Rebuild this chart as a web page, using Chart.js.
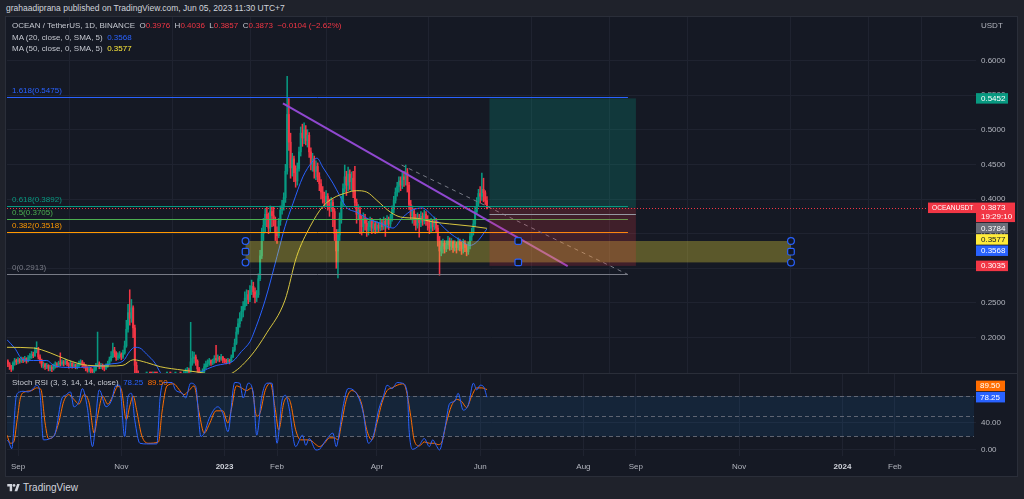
<!DOCTYPE html>
<html><head><meta charset="utf-8">
<script src="https://cdn.jsdelivr.net/npm/chart.js@4.4.1/dist/chart.umd.min.js"></script>
<style>
html,body{margin:0;padding:0;background:#1f222b;width:1024px;height:499px;overflow:hidden;font-family:"Liberation Sans",Arial,sans-serif;}
#hdr{position:absolute;left:6px;top:3px;font-size:8.5px;line-height:10px;color:#d1d4dc;white-space:nowrap}
#frame{position:absolute;left:5px;top:16px;width:1011px;height:459px;border:1px solid #2a2e39;background:#151924}
canvas{position:absolute}
#c1{left:7px;top:17px}
#c2{left:7px;top:374px}
#sep{position:absolute;left:6px;top:373px;width:1011px;height:1px;background:#2a2e39}
.leg{position:absolute;left:12px;font-size:8px;line-height:10px;color:#c5c8d0;white-space:nowrap}
.r{color:#f23645}.b{color:#2962ff}.y{color:#ffeb3b}.o{color:#ff6d00}
#usdt{position:absolute;left:981px;top:21px;font-size:8px;line-height:10px;color:#b2b5be}
#foot{position:absolute;left:7px;top:482px;font-size:10px;line-height:12px;color:#d1d4dc;white-space:nowrap}
#foot svg{vertical-align:-1px;margin-right:3px}
</style></head>
<body>
<div id="hdr">grahaadiprana published on TradingView.com, Jun 05, 2023 11:30 UTC+7</div>
<div id="frame"></div>
<canvas id="c1" width="1010" height="356"></canvas>
<div id="sep"></div>
<canvas id="c2" width="1010" height="101"></canvas>
<div class="leg" style="top:21px">OCEAN / TetherUS, 1D, BINANCE&nbsp; O<span class="r">0.3976</span>&nbsp; H<span class="r">0.4036</span>&nbsp; L<span class="r">0.3857</span>&nbsp; C<span class="r">0.3873</span>&nbsp; <span class="r">−0.0104 (−2.62%)</span></div>
<div class="leg" style="top:33px">MA (20, close, 0, SMA, 5)&nbsp; <span class="b">0.3568</span></div>
<div class="leg" style="top:44px">MA (50, close, 0, SMA, 5)&nbsp; <span class="y">0.3577</span></div>
<div class="leg" style="top:378px">Stoch RSI (3, 3, 14, 14, close)&nbsp; <span class="b">78.25</span>&nbsp; <span class="o">89.50</span></div>
<div id="usdt">USDT</div>
<div id="foot"><svg width="13" height="9" viewBox="0 0 36 26"><path d="M14 24H7V10H0V3h14v21zM29 24h-8l7.5-21h7.5L29 24z" fill="#d1d4dc"/><circle cx="19.5" cy="7" r="4" fill="#d1d4dc"/></svg><span>TradingView</span></div>
<script>
// ---------- DATA (daily candles, day 0 = 2022-09-01) ----------
const firstDay = -7;          // 2022-08-25
const firstOpen = 0.168;
const closes = [
0.166,0.162,0.158,0.155,0.163,0.167,0.165,
0.168,0.166,0.169,0.167,0.170,0.166,0.171,0.173,0.176,0.174,
0.181,0.184,0.172,0.167,0.160,0.161,0.158,0.160,0.156,0.157,
0.155,0.159,0.162,0.160,0.163,0.162,0.165,0.163,0.166,0.162,
0.160,0.163,0.159,0.161,0.158,0.160,0.163,0.165,0.162,0.159,
0.156,0.153,0.155,0.152,0.151,0.154,0.160,0.162,0.158,0.160,
0.157,0.156,0.159,0.163,0.168,0.173,0.182,0.178,0.171,0.174,
0.176,0.172,0.178,0.188,0.212,0.236,0.228,0.243,0.214,0.160,
0.148,0.140,0.137,0.135,0.132,0.130,0.131,0.129,0.128,0.127,
0.128,0.127,0.126,0.129,0.134,0.137,0.139,0.141,0.142,0.144,
0.143,0.145,0.142,0.143,0.141,0.144,0.143,0.145,0.148,0.151,
0.153,0.152,0.165,0.170,0.172,0.166,0.155,0.146,0.148,0.150,
0.158,0.162,0.164,0.167,0.163,0.166,0.170,0.168,0.171,0.169,
0.172,0.168,0.166,0.165,0.167,0.166,0.172,0.182,0.192,0.208,
0.220,0.228,0.238,0.245,0.257,0.262,0.255,0.268,0.274,0.266,
0.258,0.262,0.285,0.318,0.350,0.362,0.378,0.372,0.358,0.382,
0.376,0.370,0.352,0.347,0.368,0.384,0.390,0.402,0.440,0.522,
0.482,0.445,0.458,0.438,0.426,0.444,0.468,0.495,0.488,0.500,
0.484,0.492,0.468,0.450,0.458,0.440,0.447,0.432,0.422,0.410,
0.402,0.396,0.404,0.392,0.388,0.395,0.382,0.350,0.325,0.348,
0.372,0.396,0.415,0.432,0.420,0.436,0.425,0.430,0.412,0.395,
0.378,0.384,0.370,0.360,0.372,0.365,0.355,0.360,0.368,0.358,
0.364,0.356,0.362,0.358,0.366,0.360,0.368,0.362,0.370,0.364,
0.372,0.385,0.398,0.410,0.418,0.426,0.420,0.432,0.428,0.438,
0.420,0.392,0.376,0.382,0.370,0.362,0.372,0.366,0.375,0.368,
0.378,0.370,0.364,0.358,0.366,0.360,0.368,0.358,0.340,0.325,
0.332,0.336,0.328,0.334,0.340,0.332,0.338,0.330,0.335,0.330,
0.338,0.334,0.328,0.336,0.330,0.324,0.332,0.346,0.352,0.364,
0.382,0.396,0.408,0.404,0.414,0.409,0.3977,0.3873];
const highs = [
0.170,0.168,0.164,0.160,0.165,0.170,0.169,
0.171,0.170,0.172,0.171,0.173,0.171,0.174,0.177,0.180,0.179,
0.186,0.194,0.186,0.175,0.169,0.165,0.163,0.163,0.161,0.160,
0.160,0.162,0.165,0.164,0.166,0.178,0.168,0.167,0.169,0.167,
0.164,0.166,0.164,0.164,0.162,0.163,0.166,0.168,0.167,0.164,
0.161,0.158,0.158,0.157,0.155,0.157,0.163,0.208,0.165,0.163,
0.162,0.160,0.162,0.166,0.172,0.180,0.192,0.186,0.180,0.178,
0.180,0.178,0.182,0.195,0.225,0.248,0.269,0.255,0.246,0.218,
0.165,0.152,0.143,0.140,0.138,0.135,0.134,0.133,0.132,0.131,
0.131,0.130,0.129,0.132,0.137,0.140,0.142,0.144,0.145,0.147,
0.147,0.148,0.146,0.146,0.145,0.147,0.146,0.148,0.152,0.155,
0.157,0.156,0.222,0.180,0.179,0.175,0.168,0.157,0.152,0.155,
0.162,0.166,0.168,0.170,0.168,0.169,0.174,0.189,0.175,0.173,
0.176,0.173,0.170,0.169,0.170,0.169,0.175,0.186,0.198,0.215,
0.227,0.236,0.245,0.252,0.266,0.269,0.268,0.275,0.283,0.280,
0.272,0.268,0.292,0.326,0.358,0.372,0.386,0.389,0.380,0.390,
0.388,0.388,0.374,0.360,0.372,0.390,0.398,0.409,0.450,0.577,
0.545,0.495,0.466,0.462,0.448,0.452,0.475,0.504,0.508,0.510,
0.506,0.500,0.496,0.474,0.466,0.462,0.455,0.452,0.438,0.428,
0.418,0.410,0.412,0.408,0.400,0.402,0.399,0.386,0.356,0.356,
0.380,0.404,0.422,0.449,0.440,0.446,0.442,0.439,0.440,0.447,
0.400,0.392,0.388,0.376,0.380,0.378,0.372,0.368,0.374,0.372,
0.370,0.368,0.368,0.366,0.372,0.370,0.374,0.372,0.376,0.374,
0.378,0.390,0.404,0.416,0.424,0.432,0.432,0.438,0.440,0.449,
0.444,0.424,0.398,0.390,0.386,0.378,0.380,0.378,0.382,0.380,
0.384,0.382,0.376,0.370,0.372,0.370,0.374,0.372,0.362,0.346,
0.340,0.342,0.340,0.340,0.346,0.344,0.343,0.340,0.340,0.338,
0.344,0.342,0.338,0.342,0.340,0.334,0.338,0.352,0.358,0.370,
0.388,0.402,0.414,0.418,0.4375,0.430,0.412,0.4036];
const lows = [
0.161,0.158,0.154,0.151,0.153,0.160,0.161,
0.162,0.163,0.164,0.164,0.165,0.163,0.165,0.168,0.170,0.171,
0.173,0.178,0.169,0.163,0.157,0.156,0.154,0.155,0.152,0.152,
0.151,0.153,0.156,0.157,0.158,0.159,0.160,0.159,0.161,0.159,
0.156,0.157,0.156,0.157,0.155,0.155,0.157,0.160,0.158,0.156,
0.152,0.150,0.150,0.149,0.147,0.149,0.152,0.158,0.155,0.155,
0.154,0.152,0.154,0.157,0.161,0.166,0.171,0.172,0.167,0.168,
0.170,0.168,0.170,0.176,0.186,0.208,0.218,0.222,0.200,0.140,
0.128,0.131,0.128,0.130,0.127,0.125,0.127,0.125,0.124,0.123,
0.124,0.124,0.122,0.124,0.128,0.132,0.135,0.137,0.138,0.139,
0.140,0.140,0.139,0.139,0.138,0.139,0.140,0.140,0.142,0.145,
0.148,0.149,0.150,0.160,0.163,0.160,0.150,0.140,0.141,0.145,
0.149,0.155,0.158,0.160,0.160,0.161,0.163,0.164,0.166,0.165,
0.167,0.164,0.163,0.162,0.163,0.162,0.165,0.171,0.180,0.190,
0.205,0.215,0.224,0.230,0.240,0.246,0.249,0.252,0.262,0.258,
0.250,0.252,0.258,0.282,0.314,0.340,0.352,0.360,0.350,0.352,
0.360,0.361,0.340,0.336,0.344,0.362,0.378,0.384,0.395,0.436,
0.470,0.430,0.433,0.425,0.417,0.420,0.440,0.462,0.476,0.480,
0.478,0.475,0.460,0.442,0.440,0.430,0.428,0.425,0.412,0.400,
0.394,0.388,0.390,0.384,0.375,0.382,0.360,0.340,0.300,0.286,
0.340,0.365,0.390,0.410,0.405,0.412,0.414,0.412,0.402,0.388,
0.365,0.370,0.350,0.348,0.352,0.355,0.346,0.348,0.354,0.350,
0.352,0.350,0.351,0.352,0.354,0.355,0.356,0.346,0.358,0.356,
0.360,0.368,0.380,0.394,0.404,0.410,0.412,0.415,0.418,0.420,
0.410,0.385,0.370,0.365,0.362,0.355,0.358,0.345,0.360,0.362,
0.364,0.362,0.355,0.350,0.352,0.354,0.356,0.352,0.332,0.290,
0.318,0.322,0.322,0.324,0.328,0.326,0.327,0.323,0.325,0.322,
0.326,0.325,0.320,0.322,0.324,0.318,0.320,0.328,0.340,0.348,
0.360,0.378,0.390,0.394,0.398,0.396,0.392,0.3857];

// Moving averages (day, value)
const ma20Days = [-6.5,-2,3,9,17,21,29,37,48,55,62,66,69,72,76,81,84,90,99,107,112,117.5,122,127,132,137,139,146,153,157.7,162.5,168.3,173.6,176.6,180,186,190,194,200,208,214,221.5,227.5,233,239,243,249,255,261,267,271,277];
const ma20Vals = [0.197,0.185,0.168,0.167,0.167,0.160,0.157,0.157,0.159,0.162,0.166,0.180,0.186,0.185,0.176,0.163,0.150,0.134,0.141,0.149,0.155,0.160,0.162,0.166,0.180,0.194,0.205,0.254,0.317,0.360,0.394,0.432,0.453,0.459,0.446,0.423,0.405,0.388,0.381,0.370,0.365,0.358,0.374,0.384,0.387,0.380,0.365,0.351,0.341,0.333,0.338,0.3568];
const ma50Days = [-6.5,9,19,29,41,54,62,68,76,84,97.5,107,119,125,137,147,157.7,164.6,172.5,180,186,194,200,206,212,220,226,236,245,255,267,277];
const ma50Vals = [0.186,0.185,0.178,0.168,0.160,0.159,0.160,0.168,0.164,0.158,0.153,0.150,0.145,0.147,0.172,0.207,0.254,0.317,0.360,0.389,0.401,0.409,0.412,0.410,0.398,0.381,0.374,0.372,0.367,0.364,0.361,0.3577];

// Stoch RSI (3,3,14,14)
const stochKDays = [-6.5,-5.5,-3.7,-1,1,3,6,9,11,13,15,19,22,26,28,31,33,36,38,41,44,48,52,55,58,60,63,65,67,69,72,76,82,84,86,91,93,97,99,102,105,108,110,113,118,121,124,128,131,133,136,139,141,144,147,150,153,156,158,160,164,168,170,172,176,178,182,186,188,190,192,195,198,201,204,207,210,213,216,218,221,224,227,230,231,233,237,240,243,245,247,249,252,255,258,260,263,266,269,271,273,275,277];
const stochKVals = [15,12,2,80,86,87,86,91,96,84,15,17,25,77,81,86,64,72,91,62,5,89,64,72,96,96,20,79,84,44,10,9,9,79,100,100,89,84,77,99,94,20,25,47,64,54,27,100,99,77,99,84,22,79,99,99,10,74,81,64,5,22,7,17,0,1,15,25,5,30,64,91,89,79,54,10,22,59,81,96,91,100,99,84,30,1,7,17,5,15,7,0,30,69,72,84,59,67,99,89,96,94,78.25];
const stochDDays = [-6.5,-4.5,-2.5,-0.5,1.5,4,8,11,13.5,16,18,21,24,27,30,33,36,39,42,45,47,50,53,56,59,61,64,66,68,70,73,77,83,85,88,92,95,98,101,104,107,110,113,117,121,124,126,129,132,135,138,141,143,146,149,152,154,157,159,161,164,167,170,173,176,178,181,184,187,189,191,194,197,200,203,206,209,212,215,218,221,224,227,229,232,234,237,240,243,246,248,250,253,256,259,262,265,268,271,274,277];
const stochDVals = [22,10,12,45,78,86,88,92,90,40,17,20,40,72,82,75,68,82,70,25,50,80,68,80,94,90,45,65,80,60,22,10,12,55,95,98,90,82,88,95,55,25,38,58,58,40,60,95,92,88,92,50,55,88,99,60,30,70,78,70,30,15,15,14,8,5,10,18,18,15,38,75,88,84,68,30,15,40,70,88,92,96,98,92,50,15,6,12,10,10,8,10,40,65,75,72,63,80,92,92,89.5];
const rsiBands = [20, 50, 80];

// axis ticks
const monthDays   = [0, 61, 122, 153, 212, 273, 334, 365, 426, 487, 518];
const monthLabels = ['Sep','Nov','2023','Feb','Apr','Jun','Aug','Sep','Nov','2024','Feb'];
const priceTicks  = [0.2, 0.25, 0.3, 0.35, 0.4, 0.45, 0.5, 0.55, 0.6];
const rsiTicks    = [0, 40, 80];

// drawings (day, price)
const fibLevels = [1.618, 0.618, 0.5, 0.382, 0];
const fibPrices = [0.5475, 0.3892, 0.3705, 0.3518, 0.2913];
const fibEndDay = 360.3;
const zoneDays = [134.4, 456.6];
const zonePrices = [0.3394, 0.3085];
const posDays = [278.5, 365];
const posPrices = [0.5452, 0.3873, 0.3035]; // target, current, stop
const posEntry = 0.3784;
const trendA = [[156.5, 0.538], [324.7, 0.3033]];
const trendB = [[226.6, 0.449], [360.1, 0.2913]];
const lastPrice = 0.3873;
const priceTagVals = [0.5452, 0.3873, 0.3784, 0.3577, 0.3568, 0.3035];
const priceTagText = ['0.5452', '0.3873', '0.3784', '0.3577', '0.3568', '0.3035'];
const rsiTagVals = [89.50, 78.25];

// ---------- CHART ----------
const X_MIN = -6.5, X_MAX = 565.9;
const Y_MIN = 0.14892, Y_MAX = 0.66263;
const R_MIN = -8.9, R_MAX = 112.6;
const UP = '#089981', DN = '#f23645', GRID = '#1f2330', TXT = '#b2b5be';
const FONT = '"Liberation Sans", Arial, sans-serif';
Chart.defaults.font.family = FONT;

const opens = closes.map((c, i) => i === 0 ? firstOpen : closes[i - 1]);
const dayOf = i => firstDay + i;
const candleCol = ctx => closes[ctx.dataIndex] >= opens[ctx.dataIndex] ? UP : DN;
const pts = (ds, vs) => ds.map((d, i) => ({x: d, y: vs[i]}));

const fibStyle = ['#2962ff', '#089981', '#4caf50', '#ff9800', '#787b86'];
const tagStyle = [['#089981','#fff'], ['#f23645','#fff'], ['#6a6d78','#fff'], ['#ffeb3b','#131722'], ['#2962ff','#fff'], ['#f23645','#fff']];

const drawings = {
  id: 'drawings',
  afterDatasetsDraw(chart) {
    const {ctx, chartArea: a, scales: {x, y}} = chart;
    const X = d => x.getPixelForValue(d), Y = v => y.getPixelForValue(v);
    ctx.save();
    ctx.beginPath(); ctx.rect(a.left, a.top, a.right - a.left, a.bottom - a.top); ctx.clip();
    // fib
    ctx.font = '8px ' + FONT; ctx.textBaseline = 'middle';
    fibPrices.forEach((p, i) => {
      const yy = Math.round(Y(p)) + 0.5;
      ctx.strokeStyle = fibStyle[i]; ctx.lineWidth = 1; ctx.setLineDash([]);
      ctx.beginPath(); ctx.moveTo(a.left, yy); ctx.lineTo(X(fibEndDay), yy); ctx.stroke();
      ctx.fillStyle = fibStyle[i];
      ctx.fillText(String(fibLevels[i]) + '(' + p.toFixed(4) + ')', a.left + 5, yy - 6.5);
    });
    // trend lines
    ctx.strokeStyle = '#9048d0'; ctx.lineWidth = 2;
    ctx.beginPath(); ctx.moveTo(X(trendA[0][0]), Y(trendA[0][1])); ctx.lineTo(X(trendA[1][0]), Y(trendA[1][1])); ctx.stroke();
    ctx.strokeStyle = '#787b86'; ctx.lineWidth = 1; ctx.setLineDash([4, 4]);
    ctx.beginPath(); ctx.moveTo(X(trendB[0][0]), Y(trendB[0][1])); ctx.lineTo(X(trendB[1][0]), Y(trendB[1][1])); ctx.stroke();
    ctx.setLineDash([]);
    // zone
    const zx0 = X(zoneDays[0]), zx1 = X(zoneDays[1]), zy0 = Y(zonePrices[0]), zy1 = Y(zonePrices[1]);
    ctx.fillStyle = 'rgba(255,235,59,0.3)';
    ctx.fillRect(zx0, zy0, zx1 - zx0, zy1 - zy0);
    // position tool
    const px0 = X(posDays[0]), px1 = X(posDays[1]);
    const pt = Y(posPrices[0]), pc = Y(posPrices[1]), ps = Y(posPrices[2]);
    ctx.fillStyle = 'rgba(8,153,129,0.25)'; ctx.fillRect(px0, pt, px1 - px0, pc - pt);
    ctx.fillStyle = 'rgba(242,54,69,0.2)'; ctx.fillRect(px0, pc, px1 - px0, ps - pc);
    const ey = Math.round(Y(posEntry)) + 0.5;
    ctx.strokeStyle = '#9598a1'; ctx.lineWidth = 1;
    ctx.beginPath(); ctx.moveTo(px0, ey); ctx.lineTo(px1, ey); ctx.stroke();
    // handles
    const zm = (zy0 + zy1) / 2, xm = (zx0 + zx1) / 2;
    ctx.strokeStyle = '#2962ff'; ctx.fillStyle = '#131722'; ctx.lineWidth = 1.2;
    const circ = (cx, cy) => { ctx.beginPath(); ctx.arc(cx, cy, 3.4, 0, Math.PI * 2); ctx.fill(); ctx.stroke(); };
    const sq = (cx, cy) => { ctx.beginPath(); ctx.roundRect(cx - 3.3, cy - 3.3, 6.6, 6.6, 1.5); ctx.fill(); ctx.stroke(); };
    [zx0, zx1].forEach(hx => { circ(hx, zy0); circ(hx, zy1); sq(hx, zm); });
    sq(xm, zy0); sq(xm, zy1);
    // last price line
    const ly = Math.round(Y(lastPrice)) + 0.5;
    ctx.strokeStyle = '#f23645'; ctx.lineWidth = 1; ctx.setLineDash([1, 2]);
    ctx.beginPath(); ctx.moveTo(a.left, ly); ctx.lineTo(a.right, ly); ctx.stroke();
    ctx.restore();
  },
  afterDraw(chart) {
    const {ctx, chartArea: a, scales: {y}} = chart;
    ctx.save();
    ctx.textBaseline = 'middle';
    let prevBottom = -1e9;
    priceTagVals.forEach((v, i) => {
      const dbl = v === lastPrice;
      const h = dbl ? 19.5 : 10.5;
      let top = y.getPixelForValue(v) - 5.25;
      if (top < prevBottom + 0.8) top = prevBottom + 0.8;
      prevBottom = top + h;
      const w = dbl ? 39 : 32;
      ctx.font = '8px ' + FONT;
      ctx.fillStyle = tagStyle[i][0];
      ctx.fillRect(a.right, top, w, h);
      ctx.fillStyle = tagStyle[i][1];
      ctx.fillText(priceTagText[i], a.right + 5, top + 5.5);
      if (dbl) {
        ctx.fillText('19:29:10', a.right + 5, top + 14.5);
        ctx.fillStyle = tagStyle[i][0];
        ctx.fillRect(a.right - 48, top, 48, 10.5);
        ctx.fillStyle = '#fff';
        ctx.font = '6.6px ' + FONT;
        ctx.fillText('OCEANUSDT', a.right - 44, top + 5.5);
      }
    });
    ctx.restore();
  }
};

new Chart(document.getElementById('c1'), {
  data: {
    datasets: [
      {type: 'bar', data: closes.map((c, i) => ({x: dayOf(i), y: [lows[i], highs[i]]})), backgroundColor: candleCol, barThickness: 0.9, grouped: false, borderWidth: 0, order: 4},
      {type: 'bar', data: closes.map((c, i) => ({x: dayOf(i), y: [opens[i], c]})), backgroundColor: candleCol, barThickness: 1.4, grouped: false, borderWidth: 0, minBarLength: 1, order: 3},
      {type: 'line', data: pts(ma20Days, ma20Vals), borderColor: '#2962ff', borderWidth: 1, pointRadius: 0, cubicInterpolationMode: 'monotone', order: 2},
      {type: 'line', data: pts(ma50Days, ma50Vals), borderColor: '#d9c740', borderWidth: 1, pointRadius: 0, cubicInterpolationMode: 'monotone', order: 1}
    ]
  },
  options: {
    responsive: false, animation: false, events: [],
    layout: {padding: 0, autoPadding: false},
    plugins: {legend: {display: false}, tooltip: {enabled: false}},
    scales: {
      x: {type: 'linear', min: X_MIN, max: X_MAX, offset: false,
          grid: {color: GRID, drawTicks: false}, border: {display: false}, ticks: {display: false},
          afterBuildTicks: s => { s.ticks = monthDays.map(v => ({value: v})); },
          afterFit: s => { s.height = 0; s.paddingLeft = 0; s.paddingRight = 0; }},
      y: {type: 'linear', position: 'right', min: Y_MIN, max: Y_MAX,
          grid: {color: GRID, drawTicks: false}, border: {display: false},
          ticks: {color: TXT, padding: 5, font: {size: 8}, callback: v => Number(v).toFixed(4)},
          afterBuildTicks: s => { s.ticks = priceTicks.map(v => ({value: v})); },
          afterFit: s => { s.width = 41; s.paddingTop = 0; s.paddingBottom = 0; }}
    }
  },
  plugins: [drawings]
});

const rsiPlugin = {
  id: 'rsiBand',
  beforeDatasetsDraw(chart) {
    const {ctx, chartArea: a, scales: {y}} = chart;
    ctx.save();
    const yTop = y.getPixelForValue(rsiBands[2]), yBot = y.getPixelForValue(rsiBands[0]);
    ctx.fillStyle = 'rgba(33,150,243,0.1)';
    ctx.fillRect(a.left, yTop, a.right - 2 - a.left, yBot - yTop);
    ctx.strokeStyle = 'rgba(120,123,134,0.75)'; ctx.lineWidth = 1; ctx.setLineDash([4, 3]);
    rsiBands.forEach(v => {
      const yy = Math.round(y.getPixelForValue(v)) + 0.5;
      ctx.beginPath(); ctx.moveTo(a.left, yy); ctx.lineTo(a.right - 2, yy); ctx.stroke();
    });
    ctx.restore();
  },
  afterDraw(chart) {
    const {ctx, chartArea: a, scales: {y}} = chart;
    ctx.save();
    ctx.font = '8px ' + FONT; ctx.textBaseline = 'middle';
    const lowTop = y.getPixelForValue(rsiTagVals[1]) - 5.25;
    let hiTop = y.getPixelForValue(rsiTagVals[0]) - 5.25;
    if (hiTop + 10.5 > lowTop - 0.8) hiTop = lowTop - 0.8 - 10.5;
    ctx.fillStyle = '#ff6d00'; ctx.fillRect(a.right, hiTop, 29, 10.5);
    ctx.fillStyle = '#2962ff'; ctx.fillRect(a.right, lowTop, 29, 10.5);
    ctx.fillStyle = '#fff';
    ctx.fillText(rsiTagVals[0].toFixed(2), a.right + 4, hiTop + 5.5);
    ctx.fillText(rsiTagVals[1].toFixed(2), a.right + 4, lowTop + 5.5);
    ctx.restore();
  }
};

new Chart(document.getElementById('c2'), {
  type: 'line',
  data: {
    datasets: [
      {data: pts(stochKDays, stochKVals), borderColor: '#2962ff', borderWidth: 1, pointRadius: 0, cubicInterpolationMode: 'monotone'},
      {data: pts(stochDDays, stochDVals), borderColor: '#ff6d00', borderWidth: 1, pointRadius: 0, cubicInterpolationMode: 'monotone'}
    ]
  },
  options: {
    responsive: false, animation: false, events: [],
    layout: {padding: 0, autoPadding: false},
    plugins: {legend: {display: false}, tooltip: {enabled: false}},
    scales: {
      x: {type: 'linear', min: X_MIN, max: X_MAX, offset: false,
          grid: {color: GRID, drawTicks: false}, border: {display: false},
          ticks: {color: ctx => (ctx.tick && String(ctx.tick.label).length === 4) ? '#d1d4dc' : TXT,
                  font: ctx => ({size: 8, weight: (ctx.tick && String(ctx.tick.label).length === 4) ? 'bold' : 'normal'}),
                  padding: 6, maxRotation: 0, autoSkip: false,
                  callback: v => monthLabels[monthDays.indexOf(v)] || ''},
          afterBuildTicks: s => { s.ticks = monthDays.map(v => ({value: v})); },
          afterFit: s => { s.height = 19; s.paddingLeft = 0; s.paddingRight = 0; }},
      y: {type: 'linear', position: 'right', min: R_MIN, max: R_MAX,
          grid: {color: GRID, drawTicks: false}, border: {display: false},
          ticks: {color: TXT, padding: 5, font: {size: 8}, callback: v => Number(v).toFixed(2)},
          afterBuildTicks: s => { s.ticks = rsiTicks.map(v => ({value: v})); },
          afterFit: s => { s.width = 41; s.paddingTop = 0; s.paddingBottom = 0; }}
    }
  },
  plugins: [rsiPlugin]
});
</script>
</body></html>
